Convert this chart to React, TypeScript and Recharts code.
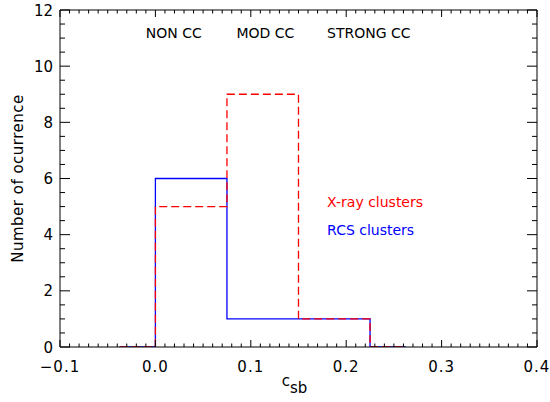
import React from "react";
import { ComposedChart, Line, XAxis, YAxis, ReferenceDot, Label } from "recharts";

// histogram bin edges (csb) and counts per bin
const binEdges = [-0.0375, 0, 0.075, 0.15, 0.225, 0.2625];
const xrayCounts = [0, 5, 9, 1, 0, 0];
const rcsCounts = [0, 6, 1, 1, 0, 0];

const xMajorTicks = [-0.1, 0, 0.1, 0.2, 0.3, 0.4];
const yMajorTicks = [0, 2, 4, 6, 8, 10, 12];

const regionLabels = [
  { x: -0.01, y: 11, text: "NON CC" },
  { x: 0.085, y: 11, text: "MOD CC" },
  { x: 0.18, y: 11, text: "STRONG CC" },
];

const legendItems = [
  { x: 0.18, y: 5, text: "X-ray clusters", color: "#ff0000" },
  { x: 0.18, y: 4, text: "RCS clusters", color: "#0000ff" },
];

const data = binEdges.map((x, i) => ({ x, xray: xrayCounts[i], rcs: rcsCounts[i] }));

// minor ticks: 10 per major on x, 4 per major on y
const xTicks: number[] = [];
for (let i = 0; i <= 50; i++) xTicks.push(Math.round((-0.1 + i * 0.01) * 1000) / 1000);
const yTicks: number[] = [];
for (let i = 0; i <= 24; i++) yTicks.push(i * 0.5);

const FONT = "DejaVu Sans";

const isMajorX = (v: number) => xMajorTicks.some((m) => Math.abs(m - v) < 1e-6);
const isMajorY = (v: number) => yMajorTicks.includes(v);

const fmtX = (v: number) => (v < 0 ? "\u2212" + Math.abs(v).toFixed(1) : v.toFixed(1));

const XTick = (props: any) => {
  const { x, y, payload, side } = props;
  const major = isMajorX(payload.value);
  const len = major ? 7 : 3.5;
  const dir = side === "bottom" ? -1 : 1;
  return (
    <g>
      <line x1={x} x2={x} y1={y} y2={y + dir * len} stroke="#000" strokeWidth={1} />
      {side === "bottom" && major && (
        <text
          x={x}
          y={y + 25}
          textAnchor="middle"
          fontFamily={FONT}
          fontSize={15}
          letterSpacing={1}
          fill="#000"
        >
          {fmtX(payload.value)}
        </text>
      )}
    </g>
  );
};

const YTick = (props: any) => {
  const { x, y, payload, side } = props;
  const major = isMajorY(payload.value);
  const len = major ? 10 : 5;
  const dir = side === "left" ? 1 : -1;
  return (
    <g>
      <line x1={x} x2={x + dir * len} y1={y} y2={y} stroke="#000" strokeWidth={1} />
      {side === "left" && major && (
        <text x={x - 7} y={y + 5.5} textAnchor="end" fontFamily={FONT} fontSize={15} fill="#000">
          {payload.value}
        </text>
      )}
    </g>
  );
};

const textShape = (text: string, color: string) => (p: any) =>
  (
    <text x={p.cx} y={p.cy} fontFamily={FONT} fontSize={14} fill={color} textAnchor="start">
      {text}
    </text>
  );

export default function App() {
  return (
    <div style={{ width: 550, height: 402, background: "#fff" }}>
      <style>{"body{margin:0}"}</style>
      <ComposedChart
        width={550}
        height={402}
        data={data}
        margin={{ top: 9, right: 12, bottom: 25, left: 0 }}
      >
        <XAxis
          dataKey="x"
          type="number"
          domain={[-0.1, 0.4]}
          allowDataOverflow
          ticks={xTicks}
          interval={0}
          tickSize={0}
          tickMargin={0}
          height={30}
          axisLine={{ stroke: "#000" }}
          tickLine={false}
          tick={<XTick side="bottom" />}
        >
          <Label
            content={(p: any) => {
              const vb = p.viewBox;
              return (
                <text
                  x={vb.x + vb.width / 2 - 4}
                  y={386}
                  textAnchor="middle"
                  fontFamily={FONT}
                  fontSize={15}
                  fill="#000"
                >
                  c
                  <tspan dy={7}>sb</tspan>
                </text>
              );
            }}
          />
        </XAxis>
        <XAxis
          xAxisId="top"
          orientation="top"
          dataKey="x"
          type="number"
          domain={[-0.1, 0.4]}
          allowDataOverflow
          ticks={xTicks}
          interval={0}
          tickSize={0}
          tickMargin={0}
          height={1}
          axisLine={{ stroke: "#000" }}
          tickLine={false}
          tick={<XTick side="top" />}
        />
        <YAxis
          type="number"
          domain={[0, 12]}
          allowDataOverflow
          ticks={yTicks}
          interval={0}
          tickSize={0}
          tickMargin={0}
          width={60}
          axisLine={{ stroke: "#000" }}
          tickLine={false}
          tick={<YTick side="left" />}
        >
          <Label
            content={(p: any) => {
              const vb = p.viewBox;
              const cy = vb.y + vb.height / 2;
              return (
                <text
                  x={18}
                  y={cy}
                  transform={`rotate(-90 18 ${cy})`}
                  textAnchor="middle"
                  dominantBaseline="central"
                  fontFamily={FONT}
                  fontSize={15}
                  letterSpacing={0.5}
                  fill="#000"
                >
                  Number of ocurrence
                </text>
              );
            }}
          />
        </YAxis>
        <YAxis
          yAxisId="right"
          orientation="right"
          type="number"
          domain={[0, 12]}
          allowDataOverflow
          ticks={yTicks}
          interval={0}
          tickSize={0}
          tickMargin={0}
          width={1}
          axisLine={{ stroke: "#000" }}
          tickLine={false}
          tick={<YTick side="right" />}
        />
        <Line
          dataKey="rcs"
          type="stepAfter"
          stroke="#0000ff"
          strokeWidth={1.3}
          dot={false}
          activeDot={false}
          isAnimationActive={false}
        />
        <Line
          dataKey="xray"
          type="stepAfter"
          stroke="#ff0000"
          strokeWidth={1.3}
          strokeDasharray="8 4"
          dot={false}
          activeDot={false}
          isAnimationActive={false}
        />
        {regionLabels.map((r) => (
          <ReferenceDot key={r.text} x={r.x} y={r.y} r={1} shape={textShape(r.text, "#000")} />
        ))}
        {legendItems.map((r) => (
          <ReferenceDot key={r.text} x={r.x} y={r.y} r={1} shape={textShape(r.text, r.color)} />
        ))}
      </ComposedChart>
    </div>
  );
}
